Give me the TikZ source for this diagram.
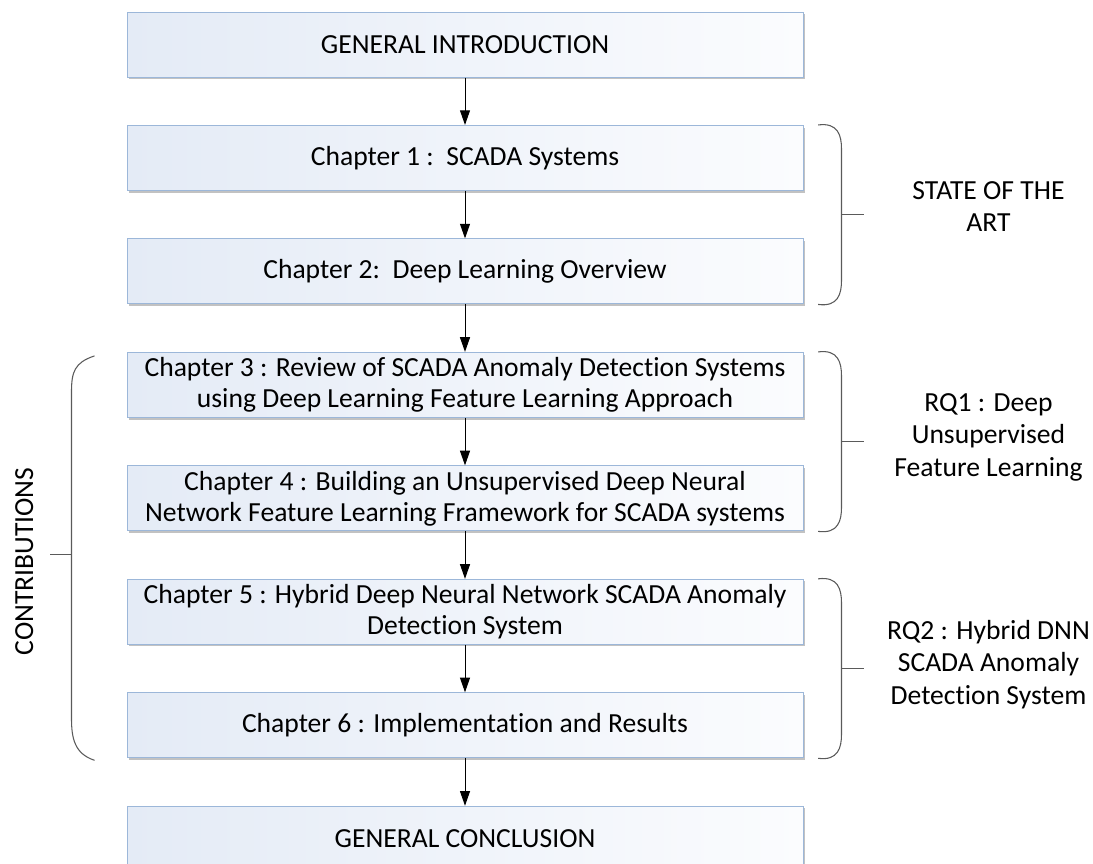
\documentclass[tikz,border=0pt]{standalone}
\usepackage{fontspec}
\setmainfont{Carlito}[Ligatures=NoCommon]
\usetikzlibrary{positioning,arrows.meta,shadows}
\definecolor{boxleft}{HTML}{E4EBF6}
\definecolor{boxright}{HTML}{FBFCFE}
\definecolor{boxline}{HTML}{9CB7D9}
\definecolor{braceline}{HTML}{5A5A5A}

\begin{document}
\begin{tikzpicture}[x=0.75pt,y=-0.75pt,node distance=35.6pt,>={Triangle[length=11pt,width=7.5pt]},line width=0.75pt]
\tikzstyle{block}=[rectangle,draw=boxline,left color=boxleft,right color=boxright,align=center,minimum width=507pt,minimum height=48.75pt,inner sep=0pt,font=\fontsize{20.7}{23.3}\selectfont,drop shadow={shadow xshift=1.6pt,shadow yshift=-1.6pt,fill=black!40,opacity=0.6}]
\tikzstyle{bracket}=[draw=braceline,line width=0.8pt]
\tikzstyle{side}=[align=center,yshift=3pt,font=\fontsize{20.7}{24.4}\selectfont]
\useasboundingbox (0,0) rectangle (1093,864);

\node[block] (intro) at (465,44.5) {GENERAL INTRODUCTION};
\node[block,below=of intro] (ch1) {Chapter 1 :\ \ SCADA Systems};
\node[block,below=of ch1] (ch2) {Chapter 2:\ \ Deep Learning Overview};
\node[block,below=of ch2] (ch3) {Chapter 3 : Review of SCADA Anomaly Detection Systems\\using Deep Learning Feature Learning Approach};
\node[block,below=of ch3] (ch4) {Chapter 4 : Building an Unsupervised Deep Neural\\Network Feature Learning Framework for SCADA systems};
\node[block,below=of ch4] (ch5) {Chapter 5 : Hybrid Deep Neural Network SCADA Anomaly\\Detection System};
\node[block,below=of ch5] (ch6) {Chapter 6 : Implementation and Results};
\node[block,below=of ch6] (concl) {GENERAL CONCLUSION};

\draw[->] (intro) -- (ch1);
\draw[->] (ch1) -- (ch2);
\draw[->] (ch2) -- (ch3);
\draw[->] (ch3) -- (ch4);
\draw[->] (ch4) -- (ch5);
\draw[->] (ch5) -- (ch6);
\draw[->] (ch6) -- (concl);

% right brackets
\draw[bracket] ([xshift=11pt]ch1.north east) .. controls +(15pt,2pt) and +(0,10pt) .. ([xshift=28.5pt,yshift=-18pt]ch1.north east)
  -- ([xshift=28.5pt,yshift=18pt]ch2.south east) .. controls +(0,-10pt) and +(15pt,-2pt) .. ([xshift=11pt]ch2.south east);
\coordinate (artmid) at ([xshift=28.5pt,yshift=-17.6pt]ch1.south east);
\draw[bracket] (artmid) -- ++(16.5pt,0) coordinate (arttick);
\node[side,xshift=93.75pt,yshift=3pt] (art) at (arttick) {STATE OF THE\\ART};

\draw[bracket] ([xshift=11pt]ch3.north east) .. controls +(15pt,2pt) and +(0,10pt) .. ([xshift=28.5pt,yshift=-18pt]ch3.north east)
  -- ([xshift=28.5pt,yshift=18pt]ch4.south east) .. controls +(0,-10pt) and +(15pt,-2pt) .. ([xshift=11pt]ch4.south east);
\coordinate (rqamid) at ([xshift=28.5pt,yshift=-17.6pt]ch3.south east);
\draw[bracket] (rqamid) -- ++(16.5pt,0) coordinate (rqatick);
\node[side,xshift=93.75pt] (rqa) at (rqatick) {RQ1 : Deep\\Unsupervised\\Feature Learning};

\draw[bracket] ([xshift=11pt]ch5.north east) .. controls +(15pt,2pt) and +(0,10pt) .. ([xshift=28.5pt,yshift=-18pt]ch5.north east)
  -- ([xshift=28.5pt,yshift=18pt]ch6.south east) .. controls +(0,-10pt) and +(15pt,-2pt) .. ([xshift=11pt]ch6.south east);
\coordinate (rqbmid) at ([xshift=28.5pt,yshift=-17.6pt]ch5.south east);
\draw[bracket] (rqbmid) -- ++(16.5pt,0) coordinate (rqbtick);
\node[side,xshift=93.75pt] (rqb) at (rqbtick) {RQ2 : Hybrid DNN\\SCADA Anomaly\\Detection System};

% left bracket
\draw[bracket] ([xshift=-24pt,yshift=-3pt]ch3.north west) .. controls +(-15pt,-5pt) and +(0,15pt) .. ([xshift=-41.25pt,yshift=-30pt]ch3.north west)
  -- ([xshift=-41.25pt,yshift=30pt]ch6.south west) .. controls +(0,-15pt) and +(-15pt,5pt) .. ([xshift=-24pt,yshift=-1.5pt]ch6.south west);
\coordinate (conmid) at ([xshift=-41.25pt,yshift=-17.6pt]ch4.south west);
\draw[bracket] (conmid) -- ++(-16.5pt,0) coordinate (contick);
\node[rotate=90,font=\fontsize{20.7}{24.4}\selectfont] (contrib) at ([xshift=-19pt,yshift=-5pt]contick) {CONTRIBUTIONS};
\end{tikzpicture}
\end{document}
